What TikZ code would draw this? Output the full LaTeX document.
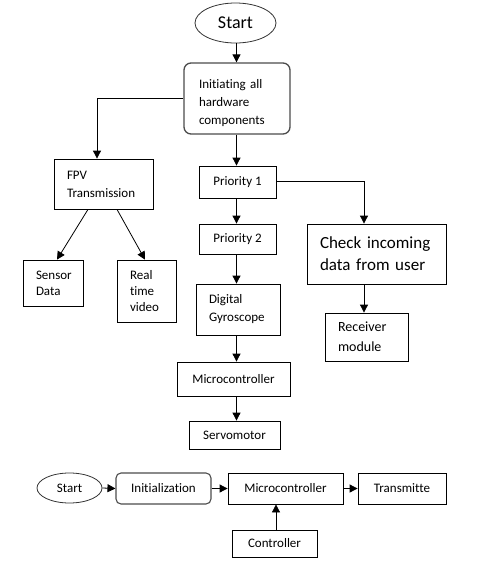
\documentclass[tikz,border=0pt]{standalone}
\usepackage{fontspec}
\setmainfont{Carlito}[Ligatures=NoCommon]
\usetikzlibrary{shapes.geometric,arrows.meta}
\tikzset{
  box/.style={draw, line width=0.8pt, inner ysep=0pt, font=\fontsize{13}{18}\selectfont},
  rbox/.style={box, rounded corners=7pt, draw=black!70, line width=1.3pt},
  oval/.style={draw, ellipse, inner sep=0pt, draw=black!80, line width=0.8pt},
  arr/.style={-{Triangle[length=8pt,width=8pt]}, line width=0.8pt},
}
\begin{document}
\begin{tikzpicture}[x=1pt,y=-1pt]
\useasboundingbox (0,0) rectangle (480,587);
\coordinate (spine) at (236.5,0);
\coordinate (rspine) at (364,0);
% top flow
\node[oval, minimum width=81pt, minimum height=40pt, font=\fontsize{18}{22}\selectfont] (start) at (235.5,23) {\raisebox{-2pt}{Start}};
\node[rbox, minimum width=106pt, minimum height=71pt, inner xsep=15pt, text width=76pt, align=left] (init) at (237,98.5) {\rule{0pt}{18pt}\mbox{Initiating all}\\hardware\\components};
\node[box, minimum width=99pt, minimum height=50pt, inner xsep=13pt, text width=73pt, align=left] (fpv) at (103.5,184) {FPV\\Transmission};
\node[box, minimum width=77pt, minimum height=32pt] (p1) at (237.5,182) {Priority 1};
\node[box, minimum width=77pt, minimum height=30pt] (p2) at (237.5,239) {Priority 2};
\node[box, minimum width=84pt, minimum height=51pt, inner xsep=13pt, text width=58pt, align=left] (gyro) at (238,309.5) {Digital\\Gyroscope};
\node[box, minimum width=113pt, minimum height=34pt] (micro) at (233.5,379) {Microcontroller};
\node[box, minimum width=91pt, minimum height=28pt] (servo) at (234.5,435) {Servomotor};
\node[box, minimum width=139pt, minimum height=60pt, inner xsep=13pt, text width=113pt, align=left, font=\fontsize{17}{22}\selectfont] (check) at (376.5,254) {\mbox{Check incoming}\\\mbox{data from user}};
\node[box, minimum width=83pt, minimum height=48pt, inner xsep=13pt, text width=57pt, align=left, font=\fontsize{14}{20}\selectfont] (recv) at (366.5,337) {Receiver\\module};
\node[box, minimum width=60pt, minimum height=46pt, inner xsep=13pt, text width=34pt, align=left, font=\fontsize{13}{16}\selectfont] (sensor) at (53,283) {Sensor\\Data};
\node[box, minimum width=59pt, minimum height=62pt, inner xsep=13pt, text width=33pt, align=left, font=\fontsize{13}{16}\selectfont] (rtv) at (146.5,291) {Real\\time\\video};
% top connectors
\draw[arr] (start.south -| spine) -- (init.north -| spine);
\draw[arr] (init.west) -| ([xshift=-6.5pt]fpv.north);
\draw[arr] (init.south -| spine) -- (p1.north -| spine);
\draw[arr] ([yshift=1pt]p1.east) -| ([xshift=-12.5pt]check.north);
\draw[arr] (p1.south -| spine) -- (p2.north -| spine);
\draw[arr] (p2.south -| spine) -- (gyro.north -| spine);
\draw[arr] (gyro.south -| spine) -- (micro.north -| spine);
\draw[arr] (micro.south -| spine) -- (servo.north -| spine);
\draw[arr] (check.south -| rspine) -- (recv.north -| rspine);
\draw[arr] ([xshift=-15.5pt]fpv.south) -- ([xshift=4pt]sensor.north);
\draw[arr] ([xshift=13.5pt]fpv.south) -- ([xshift=-1.5pt]rtv.north);
% bottom flow
\node[oval, minimum width=65pt, minimum height=30pt, font=\fontsize{13}{16}\selectfont] (bstart) at (69.5,488) {\raisebox{-2pt}{Start}};
\node[rbox, minimum width=95pt, minimum height=31pt, rounded corners=5pt, line width=1.1pt] (binit) at (163.5,488.5) {Initialization};
\node[box, minimum width=115pt, minimum height=31pt] (bmicro) at (285.5,488.5) {Microcontroller};
\node[box, minimum width=88pt, minimum height=31pt] (btx) at (402,488.5) {Transmitte};
\node[box, minimum width=85pt, minimum height=27pt] (bctrl) at (274.5,543.5) {Controller};
\draw[arr] (bstart.east) -- (binit.west);
\draw[arr] (binit.east) -- (bmicro.west);
\draw[arr] (bmicro.east) -- (btx.west);
\draw[arr] ([xshift=1.5pt]bctrl.north) -- ([xshift=1.5pt]bctrl.north |- bmicro.south);
\end{tikzpicture}
\end{document}
